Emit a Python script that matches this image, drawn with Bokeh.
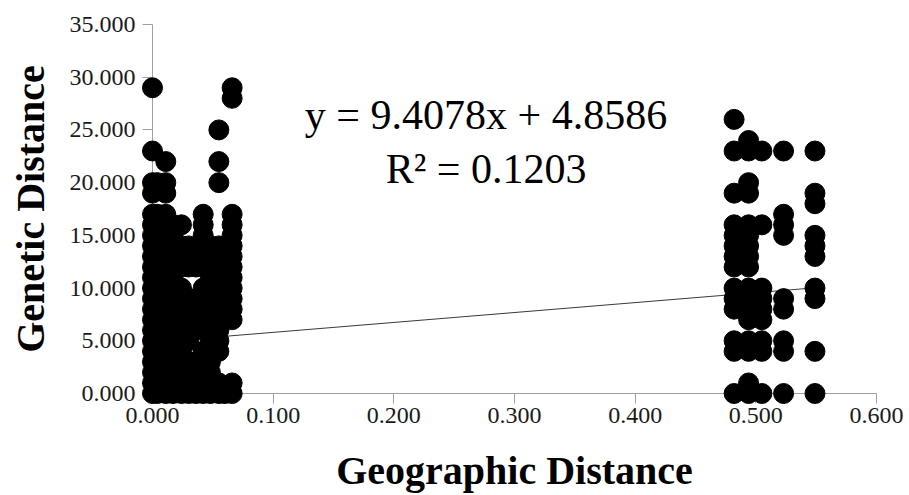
from bokeh.plotting import figure
from bokeh.models import Range1d, NumeralTickFormatter, FixedTicker, Label, ColumnDataSource
from bokeh.embed import file_html
from bokeh.resources import INLINE

# ---- data ----
# geographic distance of each column of points
geo_columns = [0.000, 0.004, 0.011, 0.017, 0.024, 0.030, 0.036, 0.042, 0.048,
               0.055, 0.060, 0.066, 0.482, 0.494, 0.505, 0.523, 0.549]
# genetic distances found in each column
gen_c00 = [29, 23, 20, 19, 17, 16, 15, 14, 13, 12, 11, 10, 9, 8, 7, 6, 5, 4, 3, 2, 1, 0]
gen_c01 = [20, 17, 15, 13, 11, 9, 7, 5, 3, 1, 0]
gen_c02 = [22, 20, 19, 17, 16, 15, 14, 13, 12, 11, 10, 9, 8, 7, 6, 5, 4, 3, 2, 1, 0]
gen_c03 = [16, 15, 14, 13, 12, 11, 10, 9, 8, 7, 6, 5, 4, 3, 2, 1, 0]
gen_c04 = [16, 14, 13, 12, 10, 9, 8, 7, 6, 5, 4, 3, 2, 1, 0]
gen_c05 = [14, 13, 12, 9, 8, 7, 6, 5, 3, 2, 1, 0]
gen_c06 = [13, 12, 9, 8, 7, 6, 3, 2, 1, 0]
gen_c07 = [17, 16, 15, 14, 13, 12, 10, 9, 8, 7, 6, 4, 3, 2, 1, 0]
gen_c08 = [14, 12, 11, 10, 9, 8, 7, 6, 5, 3, 2, 1, 0]
gen_c09 = [25, 22, 20, 14, 13, 12, 11, 10, 9, 8, 7, 6, 5, 4, 1, 0]
gen_c10 = [14, 13, 11, 9, 7, 0]
gen_c11 = [29, 28, 17, 16, 15, 14, 13, 12, 11, 10, 9, 8, 7, 1, 0]
gen_c12 = [26, 23, 19, 16, 15, 14, 13, 12, 10, 9, 8, 5, 4, 0]
gen_c13 = [24, 23, 20, 19, 16, 15, 14, 13, 12, 10, 9, 8, 7, 5, 4, 1, 0]
gen_c14 = [23, 16, 10, 9, 8, 7, 5, 4, 0]
gen_c15 = [23, 17, 16, 15, 9, 8, 5, 4, 0]
gen_c16 = [23, 19, 18, 15, 14, 13, 10, 9, 4, 0]
gen_columns = [gen_c00, gen_c01, gen_c02, gen_c03, gen_c04, gen_c05, gen_c06, gen_c07,
               gen_c08, gen_c09, gen_c10, gen_c11, gen_c12, gen_c13, gen_c14, gen_c15, gen_c16]

# trend line (as printed on the chart)
slope = 9.4078
intercept = 4.8586
r_squared = 0.1203

x_ticks = [0.0, 0.1, 0.2, 0.3, 0.4, 0.5, 0.6]
y_ticks = [0, 5, 10, 15, 20, 25, 30, 35]
x_title = "Geographic Distance"
y_title = "Genetic Distance"

# ---- build table ----
xs, ys = [], []
for gx, col in zip(geo_columns, gen_columns):
    for gy in col:
        xs.append(gx)
        ys.append(gy)
src = ColumnDataSource(dict(x=xs, y=ys))

SERIF = "Liberation Serif"

p = figure(width=909, height=495, output_backend="svg", toolbar_location=None,
           x_range=Range1d(x_ticks[0], x_ticks[-1]), y_range=Range1d(y_ticks[0], y_ticks[-1]),
           min_border_left=152, min_border_right=33, min_border_top=24, min_border_bottom=102)
p.outline_line_color = None
p.xgrid.grid_line_color = None
p.ygrid.grid_line_color = None
p.background_fill_color = "white"
p.border_fill_color = "white"

# trend line
tx = [min(xs), max(xs)]
ty = [slope * v + intercept for v in tx]
p.line(tx, ty, line_color="#3a3a3a", line_width=1)

# points
p.scatter("x", "y", source=src, size=20, fill_color="black", line_color="black", level="overlay")

# axes
for ax in (p.xaxis[0], p.yaxis[0]):
    ax.axis_line_color = "#a0a0a0"
    ax.major_tick_line_color = "#a0a0a0"
    ax.major_tick_out = 10
    ax.major_tick_in = 0
    ax.minor_tick_line_color = None
    ax.major_label_text_font = SERIF
    ax.major_label_text_font_size = "24px"
    ax.major_label_text_color = "#1a1a1a"
    ax.formatter = NumeralTickFormatter(format="0.000")
    ax.axis_label_text_font = SERIF
    ax.axis_label_text_font_style = "bold"
    ax.axis_label_text_font_size = "40px"
    ax.axis_label_text_color = "black"

p.xaxis[0].ticker = FixedTicker(ticks=x_ticks)
p.yaxis[0].ticker = FixedTicker(ticks=y_ticks)
p.xaxis[0].axis_label = x_title
p.yaxis[0].axis_label = y_title
p.xaxis[0].major_label_standoff = 4
p.yaxis[0].major_label_standoff = 7
p.xaxis[0].axis_label_standoff = 22
p.yaxis[0].axis_label_standoff = 14

eq_text = f"y = {slope}x + {intercept}"
r2_text = f"R\u00b2 = {r_squared}"
p.add_layout(Label(x=0.2764, y=26.45, text=eq_text, text_align="center", text_baseline="alphabetic",
                   text_font=SERIF, text_font_size="42px", text_color="black"))
p.add_layout(Label(x=0.2764, y=21.3, text=r2_text, text_align="center", text_baseline="alphabetic",
                   text_font=SERIF, text_font_size="42px", text_color="black"))

open("out.html", "w").write(file_html(p, INLINE))
